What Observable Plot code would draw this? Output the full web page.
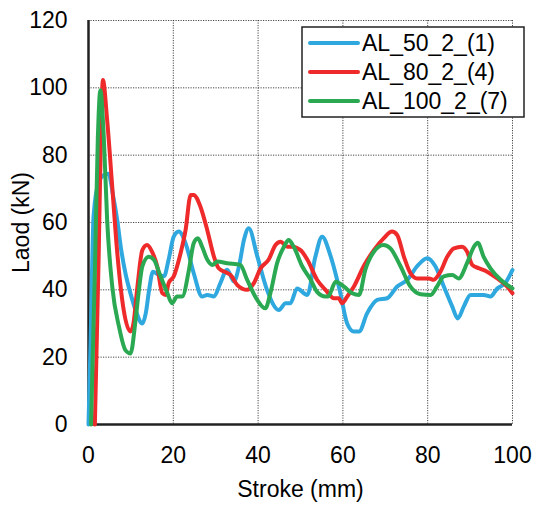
<!DOCTYPE html>
<html>
<head>
<meta charset="utf-8">
<script src="https://cdn.jsdelivr.net/npm/d3@7"></script>
<script src="https://cdn.jsdelivr.net/npm/@observablehq/plot@0.6"></script>
<style>
  html, body { margin: 0; padding: 0; background: #fff; }
</style>
</head>
<body>
<div id="chart"></div>
<script>
const seriesNames = ["AL_50_2_(1)", "AL_80_2_(4)", "AL_100_2_(7)"];
const seriesColors = ["#2ea8df", "#ee2a2b", "#2aa952"];

const xTicks = [0, 20, 40, 60, 80, 100];
const yTicks = [0, 20, 40, 60, 80, 100, 120];

const blueX = [0, 0.5, 1.2, 2.4, 3.5, 4.7, 5.8, 6.8, 7.7, 8.7, 10, 11.1, 12.7, 13.5, 14.3, 15.2, 16.5, 17.8, 18.9, 20.1, 21.3, 22.9, 24.8, 26.8, 28, 29.6, 31.1, 32.7, 34.3, 35.5, 36.7, 37.8, 39.8, 42.1, 44.9, 46.5, 47.6, 49.2, 51.6, 53.5, 55.1, 57.1, 59.4, 61, 62.6, 63.8, 65.7, 68.1, 70.4, 72.8, 75.2, 77.5, 79.9, 81.8, 83.8, 85.8, 87.1, 88.5, 90.1, 93.2, 94.8, 96.4, 98.3, 100];
const blueY = [0, 25, 62, 72, 74, 74.5, 68, 60.5, 52, 45, 38.5, 34, 30, 33, 40, 45.4, 44.5, 44, 49, 55.8, 57.3, 53.8, 45, 38, 38.5, 38, 42, 46, 42.5, 47, 55, 58.3, 50, 40, 34, 36, 36, 40.4, 38.5, 49.8, 55.8, 50, 39, 30, 27.6, 27.6, 33, 37, 37.5, 41, 43, 47, 49.4, 47, 41, 35, 31.5, 35, 38.5, 38.5, 38, 40.4, 42, 45.9];

const redX = [1.5, 2.4, 3.0, 3.4, 4.4, 5.6, 6.8, 8.3, 9.9, 10.6, 11.5, 12.7, 13.8, 15, 16.2, 17.4, 18.2, 18.9, 20.1, 21.7, 22.9, 24.1, 24.8, 26.4, 28, 29.6, 30.7, 32.7, 33.5, 35.1, 37.4, 39, 40.6, 42.5, 44.1, 45.3, 46.9, 48, 50, 51.6, 53.9, 55.9, 57.9, 59, 59.8, 61, 62.6, 64.9, 67.3, 69.6, 71.6, 72.8, 74.4, 75.9, 77.5, 80.3, 81.4, 83, 84.6, 86.2, 88.1, 89.3, 90.5, 92.1, 94, 96.4, 98.7, 100];
const redY = [0, 50, 90, 102.3, 90.4, 70.6, 50.8, 34, 27.6, 30, 40.5, 51.8, 53.3, 51.3, 47, 39, 38.5, 42, 44, 50.8, 57.8, 68.2, 68.2, 64.7, 57.8, 49.8, 46.4, 45, 44.4, 41.4, 40, 42, 46.4, 49, 53.3, 54.3, 52.8, 52.8, 51.8, 49, 43, 40, 37.5, 37.5, 36, 38, 41, 47, 51.8, 55.3, 57.3, 56.3, 49.8, 45, 43.4, 43.4, 43, 45.4, 49.8, 52.3, 52.8, 51.3, 47.4, 46.4, 45.4, 43.4, 41, 39];

const greenX = [0.6, 1.5, 2.2, 2.8, 3.6, 4.4, 5.6, 7.2, 8.7, 9.9, 11.1, 11.8, 12.7, 14.2, 15.4, 17, 18.6, 19.7, 20.9, 22.1, 23.7, 24.8, 25.8, 26.8, 28, 29.2, 30.4, 32.7, 35.8, 37.4, 39.8, 41.7, 42.9, 44.5, 46.1, 47.2, 48.4, 50.4, 52.4, 53.9, 55.9, 56.5, 58.3, 60.2, 62.2, 63.8, 65.3, 67.3, 69.6, 71.2, 73.6, 75.9, 78.3, 80.7, 82.2, 83.8, 85.8, 87.3, 89.3, 90.9, 91.8, 93.2, 94.8, 97.2, 100];
const greenY = [0, 45, 85, 99.3, 85.5, 60.7, 41, 29, 22.1, 21.1, 31, 39, 47, 49.8, 49, 44, 39, 36, 38, 38, 46, 53.8, 55.3, 52.8, 49, 47.4, 48.4, 47.9, 47.4, 43, 37, 34.5, 39, 48, 52.8, 54.8, 52.8, 47, 43, 39.4, 38, 38, 42.4, 41, 39, 38.5, 46, 51.3, 53.3, 52.3, 47, 41, 38.7, 38.5, 41, 44, 44.4, 43.4, 48, 52.8, 54, 49.8, 46.4, 43, 40.4];

const seriesX = [blueX, redX, greenX];
const seriesY = [blueY, redY, greenY];
const rows = seriesNames.flatMap((name, i) =>
  seriesX[i].map((x, j) => ({series: name, x, y: seriesY[i][j]}))
);

const FONT = "'Liberation Sans', Arial, sans-serif";

const chart = Plot.plot({
  width: 533,
  height: 508,
  marginLeft: 88,
  marginRight: 21,
  marginTop: 20,
  marginBottom: 84,
  style: {fontFamily: FONT, fontSize: "22px", background: "#fff", color: "#000"},
  x: {domain: [0, 100], ticks: xTicks, tickSize: 0, tickPadding: 22, label: "Stroke (mm)", labelAnchor: "center", labelArrow: "none", labelOffset: 72},
  y: {domain: [0, 120], ticks: yTicks, tickSize: 0, tickPadding: 21, label: "Laod (kN)", labelAnchor: "center", labelArrow: "none", labelOffset: 76},
  color: {domain: seriesNames, range: seriesColors},
  marks: [
    Plot.gridX(xTicks, {stroke: "#333", strokeOpacity: 0.9, strokeDasharray: "1.2,1.3", strokeWidth: 1}),
    Plot.gridY(yTicks, {stroke: "#333", strokeOpacity: 0.9, strokeDasharray: "1.2,1.3", strokeWidth: 1}),
    Plot.ruleX([0], {stroke: "#222", strokeWidth: 2.5}),
    Plot.ruleY([0], {stroke: "#222", strokeWidth: 2.5}),
    Plot.line(rows, {x: "x", y: "y", z: "series", stroke: "series", strokeWidth: 4, curve: "monotone-x"})
  ]
});

document.getElementById("chart").appendChild(chart);

// make all text larger to match the reference's wide glyphs
d3.select(chart).selectAll("text").attr("font-size", 23);

// Legend inside the plot area (top right)
const svg = d3.select(chart);
const lg = svg.append("g").attr("class", "legend").attr("text-anchor", "start");
lg.append("rect")
  .attr("x", 302).attr("y", 27).attr("width", 222).attr("height", 90)
  .attr("fill", "#fff").attr("stroke", "#222").attr("stroke-width", 1.5);
seriesNames.forEach((name, i) => {
  const cy = 43 + i * 29;
  lg.append("line")
    .attr("x1", 310).attr("x2", 358).attr("y1", cy).attr("y2", cy)
    .attr("stroke", seriesColors[i]).attr("stroke-width", 4).attr("stroke-linecap", "round");
  lg.append("text")
    .attr("x", 362).attr("y", cy).attr("dy", "0.36em")
    .attr("text-anchor", "start")
    .attr("font-family", FONT)
    .attr("font-size", 23).attr("fill", "#000")
    .text(name);
});
</script>
</body>
</html>
